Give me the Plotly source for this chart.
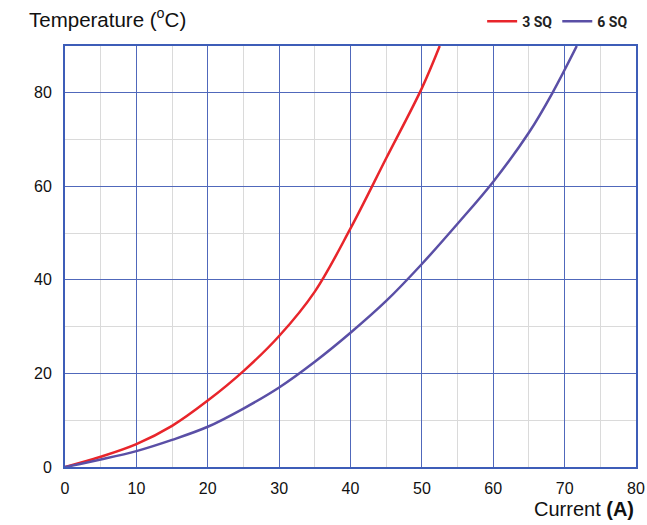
import plotly.graph_objects as go

# Temperature rise vs. current for two conductor sizes
current_3sq = [0, 5, 10, 15, 20, 25, 30, 35, 40, 45, 50, 52.5]
temp_3sq = [0, 2.2, 4.9, 8.8, 14.2, 20.5, 28, 37.5, 51, 66, 81, 90]

current_6sq = [0, 5, 10, 15, 20, 25, 30, 35, 40, 45, 50, 55, 60, 65, 68.3, 71.7]
temp_6sq = [0, 1.6, 3.4, 5.8, 8.6, 12.5, 17, 22.5, 28.7, 35.5, 43.4, 52, 61, 71.5, 80, 90]

x_ticks = [0, 10, 20, 30, 40, 50, 60, 70, 80]
y_ticks = [0, 20, 40, 60, 80]

RED = "#e8252b"
PURPLE = "#5a4fa6"
AXIS_BLUE = "#3d5db8"
GRID_BLUE = "#5068bb"
GRID_MINOR = "#dadada"

fig = go.Figure()
fig.add_trace(go.Scatter(x=current_3sq, y=temp_3sq, mode="lines", name="3 SQ",
                         line=dict(color=RED, width=2.5, shape="spline")))
fig.add_trace(go.Scatter(x=current_6sq, y=temp_6sq, mode="lines", name="6 SQ",
                         line=dict(color=PURPLE, width=2.5, shape="spline")))

axis_font = dict(family="Liberation Sans, Arial, sans-serif", size=16, color="#111")

fig.update_xaxes(range=[0, 80], tickvals=x_ticks, ticks="outside", ticklen=6,
                 tickcolor="rgba(0,0,0,0)", tickfont=axis_font,
                 showline=True, linecolor=AXIS_BLUE, linewidth=2, mirror=True,
                 showgrid=True, gridcolor=GRID_BLUE, gridwidth=1, zeroline=False,
                 minor=dict(dtick=5, showgrid=True, gridcolor=GRID_MINOR, gridwidth=1),
                 fixedrange=True)
fig.update_yaxes(range=[0, 90], tickvals=y_ticks, ticks="outside", ticklen=8,
                 tickcolor="rgba(0,0,0,0)", tickfont=axis_font,
                 showline=True, linecolor=AXIS_BLUE, linewidth=2, mirror=True,
                 showgrid=True, gridcolor=GRID_BLUE, gridwidth=1, zeroline=False,
                 minor=dict(dtick=10, showgrid=True, gridcolor=GRID_MINOR, gridwidth=1),
                 fixedrange=True)

fig.add_annotation(text="Temperature (<sup>o</sup>C)", xref="paper", yref="paper",
                   x=-0.067, y=1.0, yshift=28, xanchor="left", yanchor="middle",
                   showarrow=False,
                   font=dict(family="Liberation Sans, Arial, sans-serif", size=20.5, color="#111"))
fig.add_annotation(text="Current <b>(A)</b>", xref="paper", yref="paper",
                   x=1.0, y=0, yshift=-42, xanchor="right", yanchor="middle",
                   showarrow=False,
                   font=dict(family="Liberation Sans, Arial, sans-serif", size=20, color="#111"))

fig.update_layout(
    width=647, height=525,
    margin=dict(l=65, r=11, t=46, b=58, autoexpand=False),
    plot_bgcolor="white", paper_bgcolor="white",
    showlegend=True,
    legend=dict(orientation="h", x=0.995, xanchor="right", y=1.02, yanchor="bottom",
                yref="paper",
                font=dict(family="Roboto, sans-serif", size=14, color="#222", weight="bold"),
                itemwidth=30, bgcolor="rgba(0,0,0,0)", traceorder="normal"),
)

fig.write_html("out.html")
